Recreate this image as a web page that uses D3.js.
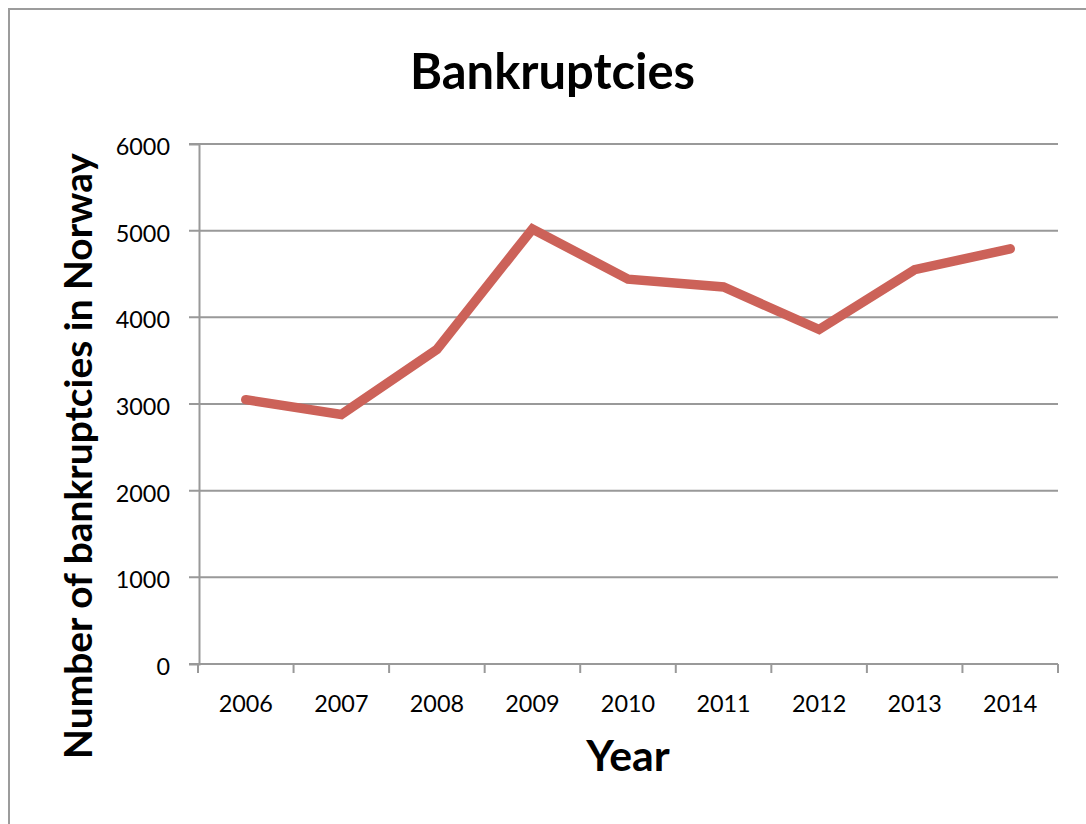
<!DOCTYPE html>
<html>
<head>
<meta charset="utf-8">
<script src="https://cdn.jsdelivr.net/npm/d3@7"></script>
<style>
  html, body { margin: 0; padding: 0; background: #fff; }
  svg { display: block; font-family: Lato, "Open Sans", sans-serif; }
</style>
</head>
<body>
<svg id="chart" width="1086" height="824"></svg>
<script>
// Yearly bankruptcies in Norway
const years = ["2006", "2007", "2008", "2009", "2010", "2011", "2012", "2013", "2014"];
const bankruptcies = [3050, 2880, 3630, 5020, 4440, 4350, 3860, 4550, 4790];
const yTicks = [0, 1000, 2000, 3000, 4000, 5000, 6000];

const chartTitle = "Bankruptcies";
const xTitle = "Year";
const yTitle = "Number of bankruptcies in Norway";

const svg = d3.select("#chart");
const W = 1086, H = 824;
const plot = { left: 198, right: 1058, top: 144, bottom: 664 };
const gridColor = "#999999";
const lineColor = "#cc6259";

// Size a text element's font so its rendered width hits a target
function fitFont(sel, targetWidth, startSize) {
  sel.style("font-size", startSize + "px");
  const w = sel.node().getComputedTextLength();
  const size = startSize * targetWidth / w;
  sel.style("font-size", size + "px");
  return size;
}

// Chart frame (only its top and left edges fall inside the page)
svg.append("path")
  .attr("d", `M9,${H} L9,9 L${W},9`)
  .attr("fill", "none")
  .attr("stroke", "#9c9c9c")
  .attr("stroke-width", 2);

const x = d3.scaleBand().domain(years).range([plot.left, plot.right]).padding(0);
const y = d3.scaleLinear().domain([0, 6000]).range([plot.bottom, plot.top]);

// Horizontal gridlines, extending left past the axis as tick marks
svg.append("g")
  .selectAll("line")
  .data(yTicks)
  .join("line")
  .attr("x1", plot.left - 9)
  .attr("x2", plot.right)
  .attr("y1", d => y(d))
  .attr("y2", d => y(d))
  .attr("stroke", gridColor)
  .attr("stroke-width", 2);

// Vertical value axis with labels
const yAxis = svg.append("g")
  .attr("transform", `translate(${plot.left + 1},0)`)
  .call(d3.axisLeft(y).tickValues(yTicks).tickSize(10).tickPadding(19).tickFormat(d3.format("d")))
  .attr("font-family", null)
  .attr("font-size", null);
yAxis.select(".domain").attr("stroke", gridColor).attr("stroke-width", 2);
yAxis.selectAll(".tick line").remove();
const yLabels = yAxis.selectAll(".tick text")
  .attr("fill", "#000")
  .attr("dy", null)
  .attr("y", 10.5);

// Horizontal category axis: boundary ticks plus centered year labels
const xAxis = svg.append("g")
  .attr("transform", `translate(0,${plot.bottom})`)
  .call(d3.axisBottom(x).tickSize(0).tickPadding(0))
  .attr("font-family", null)
  .attr("font-size", null);
xAxis.select(".domain").remove();
const xLabels = xAxis.selectAll(".tick text")
  .attr("fill", "#000")
  .attr("dy", null)
  .attr("y", 48);

svg.append("line")
  .attr("x1", plot.left).attr("x2", plot.right)
  .attr("y1", plot.bottom).attr("y2", plot.bottom)
  .attr("stroke", gridColor).attr("stroke-width", 2);

const boundaries = years.map(d => x(d)).concat([x(years[years.length - 1]) + x.bandwidth()]);
svg.append("g")
  .selectAll("line")
  .data(boundaries)
  .join("line")
  .attr("x1", d => d).attr("x2", d => d)
  .attr("y1", plot.bottom).attr("y2", plot.bottom + 9)
  .attr("stroke", gridColor)
  .attr("stroke-width", 2);

// Tick label font: size from the width of one year label
const probe = xLabels.filter((d, i) => i === 0);
const tickSize = fitFont(probe, 54.3, 24);
xLabels.style("font-size", tickSize + "px");
yLabels.style("font-size", tickSize + "px");

// Data line
const line = d3.line()
  .x((d, i) => x(years[i]) + x.bandwidth() / 2)
  .y(d => y(d));

svg.append("path")
  .datum(bankruptcies)
  .attr("d", line)
  .attr("fill", "none")
  .attr("stroke", lineColor)
  .attr("stroke-width", 9.5)
  .attr("stroke-linecap", "round")
  .attr("stroke-linejoin", "miter");

// Titles
const title = svg.append("text")
  .attr("x", 552.5)
  .attr("y", 89)
  .attr("text-anchor", "middle")
  .attr("font-weight", "bold")
  .attr("fill", "#000")
  .text(chartTitle);
fitFont(title, 285, 48);

const xt = svg.append("text")
  .attr("x", (plot.left + plot.right) / 2)
  .attr("y", 770.5)
  .attr("text-anchor", "middle")
  .attr("font-weight", "bold")
  .attr("fill", "#000")
  .text(xTitle);
fitFont(xt, 83.5, 34);

const yt = svg.append("text")
  .attr("transform", "translate(92,456) rotate(-90)")
  .attr("text-anchor", "middle")
  .attr("font-weight", "bold")
  .attr("fill", "#000")
  .text(yTitle);
fitFont(yt, 606, 34);
</script>
</body>
</html>
